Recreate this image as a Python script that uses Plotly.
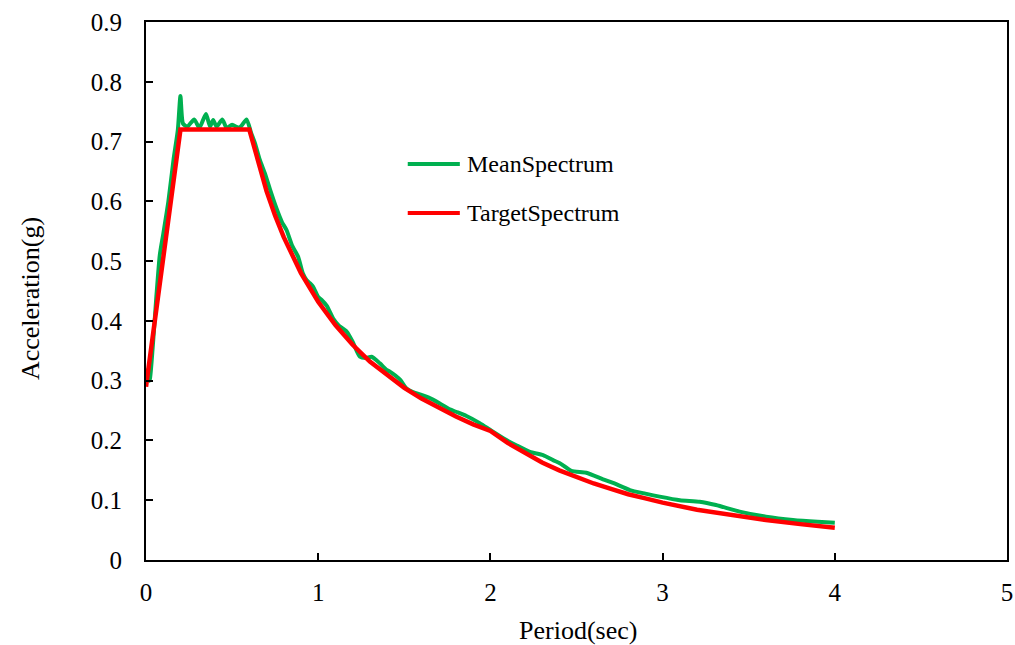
import plotly.graph_objects as go

# Mean spectrum (green)
mean_period = [0, 0.02, 0.04, 0.06, 0.08, 0.10, 0.13, 0.16, 0.185, 0.20, 0.215, 0.24,
               0.28, 0.31, 0.348, 0.372, 0.39, 0.41, 0.443, 0.468, 0.50, 0.54, 0.556,
               0.584, 0.61, 0.633, 0.66, 0.69, 0.72, 0.758, 0.79, 0.816, 0.85, 0.884,
               0.91, 0.933, 0.952, 0.971, 1.0, 1.02, 1.05, 1.087, 1.12, 1.165, 1.20,
               1.242, 1.28, 1.31, 1.358, 1.397, 1.416, 1.474, 1.513, 1.55, 1.60, 1.639,
               1.706, 1.764, 1.80, 1.861, 1.938, 2.0, 2.093, 2.15, 2.229, 2.306, 2.364,
               2.403, 2.47, 2.557, 2.654, 2.712, 2.81, 2.90, 2.983, 3.1, 3.215, 3.31,
               3.447, 3.6, 3.757, 3.9, 4.0]
mean_accel = [0.32, 0.30, 0.36, 0.44, 0.51, 0.545, 0.60, 0.67, 0.72, 0.776, 0.73, 0.725,
              0.737, 0.723, 0.746, 0.725, 0.736, 0.725, 0.737, 0.723, 0.728, 0.723, 0.727,
              0.737, 0.715, 0.697, 0.67, 0.647, 0.62, 0.588, 0.565, 0.552, 0.525, 0.507,
              0.48, 0.468, 0.463, 0.457, 0.44, 0.435, 0.425, 0.404, 0.392, 0.382, 0.365,
              0.340, 0.338, 0.340, 0.329, 0.318, 0.315, 0.302, 0.287, 0.281, 0.276, 0.272,
              0.262, 0.252, 0.248, 0.241, 0.229, 0.2175, 0.2007, 0.192, 0.181, 0.1756, 0.167,
              0.162, 0.149, 0.146, 0.135, 0.129, 0.117, 0.111, 0.106, 0.100, 0.0975, 0.092,
              0.081, 0.0725, 0.067, 0.064, 0.0625]

# Target spectrum (red)
target_period = [0, 0.2, 0.6, 0.65, 0.7, 0.75, 0.8, 0.9, 1.0, 1.1, 1.2, 1.3, 1.4, 1.5,
                 1.6, 1.7, 1.8, 1.9, 2.0, 2.1, 2.2, 2.3, 2.4, 2.5, 2.6, 2.7, 2.8, 2.9,
                 3.0, 3.2, 3.4, 3.6, 3.8, 4.0]
target_accel = [0.29, 0.72, 0.72, 0.665, 0.617, 0.576, 0.54, 0.48, 0.432, 0.393, 0.36,
                0.332, 0.309, 0.288, 0.27, 0.254, 0.24, 0.227, 0.216, 0.196, 0.179, 0.163,
                0.150, 0.138, 0.128, 0.119, 0.110, 0.103, 0.096, 0.084, 0.075, 0.067,
                0.060, 0.054]

series_names = ["MeanSpectrum", "TargetSpectrum"]
series_colors = ["#00B050", "#FF0000"]

FONT = "Liberation Serif, Times New Roman, serif"

fig = go.Figure()
fig.add_trace(go.Scatter(x=mean_period, y=mean_accel, mode="lines", name=series_names[0],
                         line=dict(color=series_colors[0], width=4, shape="spline", smoothing=0.6),
                         showlegend=False))
fig.add_trace(go.Scatter(x=target_period, y=target_accel, mode="lines", name=series_names[1],
                         line=dict(color=series_colors[1], width=4.5), showlegend=False))

# manual legend
legend_y = [0.736, 0.645]
for name, color, ly in zip(series_names, series_colors, legend_y):
    fig.add_shape(type="line", xref="paper", yref="paper", x0=0.304, x1=0.3645, y0=ly, y1=ly,
                  line=dict(color=color, width=4))
    fig.add_annotation(xref="paper", yref="paper", x=0.370, y=ly, text=name, showarrow=False,
                       xanchor="left", yanchor="middle", font=dict(family=FONT, size=24, color="black"))

# axis titles
fig.add_annotation(xref="paper", yref="paper", x=(578 - 146) / 861.5, y=-(630 - 560) / 538,
                   text="Period(sec)", showarrow=False, xanchor="center", yanchor="middle",
                   font=dict(family=FONT, size=26, color="black"))
fig.add_annotation(xref="paper", yref="paper", x=-(146 - 30) / 861.5, y=(560 - 299) / 538,
                   text="Acceleration(g)", showarrow=False, textangle=-90,
                   xanchor="center", yanchor="middle",
                   font=dict(family=FONT, size=26, color="black"))

fig.update_layout(
    width=1015, height=645,
    margin=dict(l=146, r=8, t=22, b=85, autoexpand=False),
    paper_bgcolor="white", plot_bgcolor="white",
    font=dict(family=FONT, size=25, color="black"),
    xaxis=dict(range=[0, 5], dtick=1, tick0=0, ticks="inside", ticklen=7, tickwidth=1.5,
               tickcolor="black", showline=True, linecolor="black", linewidth=2, mirror=True,
               showgrid=False, zeroline=False, automargin=False, ticklabelstandoff=9),
    yaxis=dict(range=[0, 0.9], dtick=0.1, tick0=0, ticks="inside", ticklen=7, tickwidth=1.5,
               tickcolor="black", showline=True, linecolor="black", linewidth=2, mirror=True,
               showgrid=False, zeroline=False, automargin=False, ticklabelstandoff=17),
)

fig.write_html("out.html")
